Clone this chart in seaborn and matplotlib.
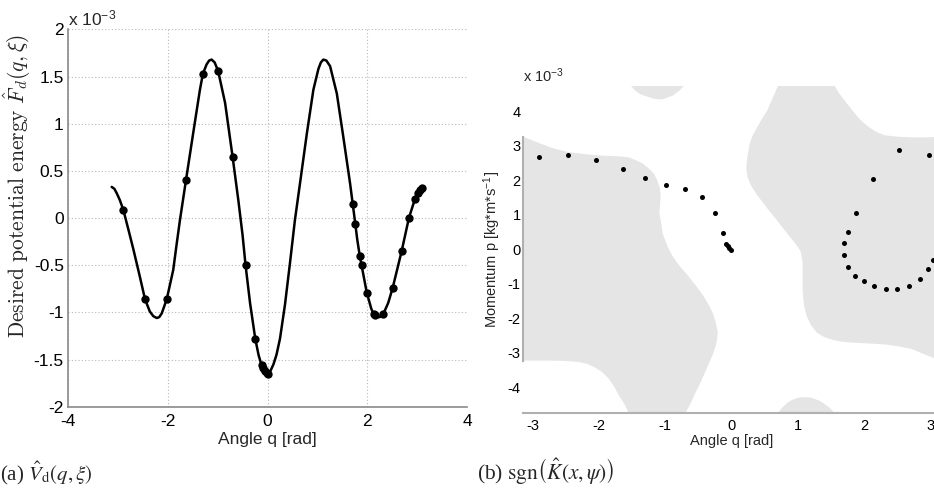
import numpy as np
import pandas as pd
import matplotlib
matplotlib.use("Agg")
import matplotlib.pyplot as plt
import seaborn as sns

# ---------------- data (panel a), energy in units of 1e-3 ----------------
curve_q = [-3.124, -3.07, -3.02, -2.96, -2.89, -2.79, -2.69, -2.56, -2.456, -2.36,
           -2.29, -2.22, -2.17, -2.12, -2.02, -1.89, -1.82, -1.755, -1.635, -1.49,
           -1.355, -1.295, -1.22, -1.17, -1.12, -1.06, -0.99, -0.85, -0.70, -0.585,
           -0.50, -0.44, -0.35, -0.245, -0.18, -0.12, -0.06, 0.0, 0.06, 0.12,
           0.18, 0.25, 0.35, 0.45, 0.55, 0.66, 0.79, 0.92, 1.02, 1.07,
           1.12, 1.18, 1.255, 1.39, 1.52, 1.655, 1.71, 1.76, 1.80, 1.85,
           1.886, 1.99, 2.08, 2.13, 2.19, 2.25, 2.32, 2.42, 2.51, 2.69,
           2.835, 2.955, 3.02, 3.07, 3.12]
curve_v = [0.33, 0.31, 0.26, 0.19, 0.085, -0.12, -0.33, -0.62, -0.86, -0.99,
           -1.04, -1.06, -1.05, -1.01, -0.86, -0.55, -0.27, -0.02, 0.40, 0.90,
           1.36, 1.53, 1.63, 1.67, 1.68, 1.65, 1.56, 1.22, 0.65, 0.19,
           -0.18, -0.50, -0.90, -1.28, -1.45, -1.56, -1.62, -1.655, -1.62, -1.55,
           -1.45, -1.28, -0.92, -0.48, -0.02, 0.40, 0.90, 1.36, 1.58, 1.65,
           1.68, 1.67, 1.61, 1.32, 0.86, 0.37, 0.145, -0.06, -0.23, -0.40,
           -0.50, -0.79, -0.96, -1.02, -1.05, -1.05, -1.02, -0.90, -0.74, -0.35,
           0.00, 0.20, 0.27, 0.31, 0.32]
dots_a_q = [-2.89, -2.456, -2.02, -1.635, -1.295, -0.99, -0.70, -0.44, -0.245, -0.12,
            -0.085, -0.05, -0.02, 0.0,
            1.71, 1.75, 1.85, 1.886, 1.99, 2.13, 2.16, 2.32, 2.51, 2.69,
            2.835, 2.955, 3.01, 3.05, 3.09]
dots_a_v = [0.085, -0.86, -0.86, 0.40, 1.53, 1.56, 0.65, -0.50, -1.28, -1.56,
            -1.59, -1.62, -1.64, -1.655,
            0.145, -0.06, -0.40, -0.50, -0.79, -1.02, -1.03, -1.02, -0.74, -0.35,
            0.003, 0.20, 0.27, 0.30, 0.32]
a_xticks = [-4, -2, 0, 2, 4]
a_yticks = [-2, -1.5, -1, -0.5, 0, 0.5, 1, 1.5, 2]
a_yticklabels = ["-2", "-1.5", "-1", "-0.5", "0", "0.5", "1", "1.5", "2"]

# ---------------- data (panel b), momentum in units of 1e-3 ----------------
dots_b_q = [-2.90, -2.47, -2.04, -1.64, -1.30, -0.99, -0.70, -0.45, -0.25, -0.13,
            -0.085, -0.06, -0.035, -0.01,
            2.97, 2.52, 2.13, 1.88, 1.75, 1.70, 1.70, 1.75, 1.86, 2.00,
            2.15, 2.33, 2.50, 2.68, 2.84, 2.96, 3.03]
dots_b_p = [2.69, 2.75, 2.59, 2.32, 2.06, 1.86, 1.76, 1.53, 1.06, 0.47,
            0.166, 0.10, 0.04, -0.03,
            2.75, 2.87, 2.03, 1.06, 0.49, 0.17, -0.17, -0.51, -0.76, -0.92,
            -1.07, -1.15, -1.15, -1.06, -0.86, -0.57, -0.32]

regionA_q = [-3.1416, -2.95, -2.69, -2.45, -2.20, -1.95, -1.70, -1.55, -1.45, -1.34,
             -1.25, -1.17, -1.12, -1.08, -1.07, -1.08, -1.09, -1.07, -1.04, -0.96,
             -0.88, -0.79, -0.66, -0.54, -0.43, -0.34, -0.28, -0.24, -0.21, -0.22,
             -0.24, -0.28, -0.34, -0.41, -0.49, -0.55, -0.61, -0.66, -0.70, -1.55,
             -1.62, -1.70, -1.77, -1.85, -1.95, -2.05, -2.17, -2.30, -2.50, -2.70,
             -3.1416]
regionA_p = [3.27, 3.12, 2.93, 2.82, 2.76, 2.72, 2.70, 2.67, 2.59, 2.49,
             2.35, 2.19, 2.00, 1.76, 1.52, 1.28, 1.04, 0.85, 0.45, 0.05,
             -0.23, -0.47, -0.76, -1.05, -1.34, -1.63, -1.87, -2.11, -2.40, -2.62,
             -2.80, -3.03, -3.30, -3.61, -3.95, -4.18, -4.44, -4.62, -4.75, -4.75,
             -4.48, -4.24, -3.99, -3.76, -3.57, -3.44, -3.33, -3.27, -3.24, -3.23,
             -3.23]
regionB_q = [0.70, 1.55, 1.62, 1.70, 1.78, 1.86, 1.95, 2.06, 2.18, 2.31,
             2.50, 2.71, 2.95, 3.1416, 3.1416, 2.95, 2.71, 2.50, 2.31, 2.05,
             1.85, 1.70, 1.55, 1.40, 1.28, 1.20, 1.14, 1.10, 1.08, 1.07,
             1.07, 1.07, 1.04, 0.96, 0.88, 0.80, 0.70, 0.60, 0.48, 0.37,
             0.29, 0.24, 0.22, 0.23, 0.27, 0.32, 0.39, 0.46, 0.54, 0.62]
regionB_p = [4.75, 4.75, 4.53, 4.33, 4.13, 3.94, 3.74, 3.56, 3.41, 3.31,
             3.27, 3.25, 3.25, 3.27, -3.23, -3.08, -2.89, -2.81, -2.76, -2.73,
             -2.71, -2.69, -2.64, -2.55, -2.41, -2.21, -1.98, -1.72, -1.43, -1.14,
             -0.75, -0.37, -0.05, 0.17, 0.36, 0.55, 0.80, 1.04, 1.33, 1.62,
             1.86, 2.10, 2.35, 2.59, 3.07, 3.32, 3.56, 3.80, 4.04, 4.40]
capTop_q = [-1.52, -1.46, -1.40, -1.32, -1.25, -1.17, -1.09, -1.01, -0.95, -0.88,
            -0.84, -0.78, -0.72]
capTop_p = [4.75, 4.62, 4.53, 4.46, 4.42, 4.37, 4.35, 4.37, 4.42, 4.47,
            4.53, 4.62, 4.75]
capBot_q = [0.70, 0.76, 0.82, 0.88, 0.95, 1.02, 1.10, 1.18, 1.25, 1.33,
            1.40, 1.48, 1.55]
capBot_p = [-4.75, -4.60, -4.49, -4.40, -4.34, -4.30, -4.29, -4.30, -4.34, -4.40,
            -4.49, -4.60, -4.75]
b_xticks = [-3, -2, -1, 0, 1, 2, 3]
b_yticks = [-4, -3, -2, -1, 0, 1, 2, 3, 4]

# ---------------- style ----------------
sns.set_style("white")
plt.rcParams["font.family"] = ["Liberation Sans", "DejaVu Sans"]
plt.rcParams["axes.unicode_minus"] = False
plt.rcParams["mathtext.fontset"] = "custom"
plt.rcParams["mathtext.rm"] = "Liberation Sans"
plt.rcParams["mathtext.it"] = "Liberation Sans:italic"

W, H = 934, 490
fig = plt.figure(figsize=(W / 100, H / 100), dpi=100)

# ---------------- panel (a) ----------------
axl, axr, axb, axt = 68, 467, 406.7, 29.4
ax1 = fig.add_axes([axl / W, (H - axb) / H, (axr - axl) / W, (axb - axt) / H])
sns.lineplot(x=curve_q, y=curve_v, ax=ax1, color="black", lw=1.8, sort=False,
             estimator=None)
sns.scatterplot(x=dots_a_q, y=dots_a_v, ax=ax1, color="black", s=36,
                edgecolor="black", linewidth=0, zorder=5)
ax1.set_xlim(-4, 4)
ax1.set_ylim(-2, 2)
ax1.set_xticks(a_xticks)
ax1.set_xticklabels([str(t) for t in a_xticks])
ax1.set_yticks(a_yticks)
ax1.set_yticklabels(a_yticklabels)
ax1.grid(True, linestyle=(0, (1, 2)), color="#b8b8b8", linewidth=0.8)
for s in ["top", "right"]:
    ax1.spines[s].set_visible(False)
for s in ["left", "bottom"]:
    ax1.spines[s].set_color("#8a8a8a")
    ax1.spines[s].set_linewidth(1.2)
ax1.tick_params(axis="both", labelsize=12.5, colors="black", direction="in",
                length=3, color="#8a8a8a")
ax1.tick_params(axis="x", pad=5)
ax1.tick_params(axis="y", pad=3)
ax1.set_xlabel("Angle q [rad]", fontsize=12.5)
ax1.xaxis.set_label_coords(0.5, -0.066)
ax1.set_ylabel(r"$\mathrm{Desired\ potential\ energy}\ \hat{F}_d(q,\xi)$",
               fontsize=15.5, math_fontfamily="cm")
ax1.yaxis.set_label_coords(-0.088, 0.585)
fig.text(axl / W, (H - 25) / H, r"x 10$^{-3}$", fontsize=12.5, ha="left",
         va="baseline")

# ---------------- panel (b) ----------------
bxl, bxr, byb, byt = 523.3, 940.0, 413.0, 85.7
ax2 = fig.add_axes([bxl / W, (H - byb) / H, (bxr - bxl) / W, (byb - byt) / H])
for rq, rp in [(regionA_q, regionA_p), (regionB_q, regionB_p),
               (capTop_q, capTop_p), (capBot_q, capBot_p)]:
    ax2.fill(rq, rp, color="#e5e5e5", linewidth=0, zorder=1)
sns.scatterplot(x=dots_b_q, y=dots_b_p, ax=ax2, color="black", s=13,
                edgecolor="black", linewidth=0, zorder=5)
ax2.set_xlim(-np.pi, np.pi)
ax2.set_ylim(-4.75, 4.75)
ax2.set_xticks(b_xticks)
ax2.set_xticklabels([str(t) for t in b_xticks])
ax2.set_yticks(b_yticks)
ax2.set_yticklabels([str(t) for t in b_yticks])
for s in ["top", "right"]:
    ax2.spines[s].set_visible(False)
for s in ["left", "bottom"]:
    ax2.spines[s].set_color("#b0b0b0")
    ax2.spines[s].set_linewidth(1.5)
ax2.spines["left"].set_bounds(-3.23, 3.27)
ax2.tick_params(axis="both", labelsize=10.5, colors="black", length=0)
ax2.tick_params(axis="x", pad=4)
ax2.tick_params(axis="y", pad=2)
ax2.set_xlabel("Angle q [rad]", fontsize=10.5)
ax2.xaxis.set_label_coords(0.5, -0.064)
ax2.set_ylabel(r"Momentum p [kg*m*s$^{-1}$]", fontsize=10.5)
ax2.yaxis.set_label_coords(-0.048, 0.5)
fig.text(bxl / W, (H - 82) / H, r"x 10$^{-3}$", fontsize=10.5, ha="left",
         va="baseline")

# ---------------- captions ----------------
fig.text(0 / W, (H - 480) / H, r"(a) $\hat{V}_{\mathrm{d}}(q,\xi)$",
         fontsize=15, family="Liberation Serif", math_fontfamily="stix",
         ha="left", va="baseline")
fig.text(477 / W, (H - 480) / H,
         r"(b) $\mathrm{sgn}\left(\hat{K}(x,\psi)\right)$",
         fontsize=15.5, family="Liberation Serif", math_fontfamily="stix",
         ha="left", va="baseline")

fig.savefig("out.png", dpi=100)
